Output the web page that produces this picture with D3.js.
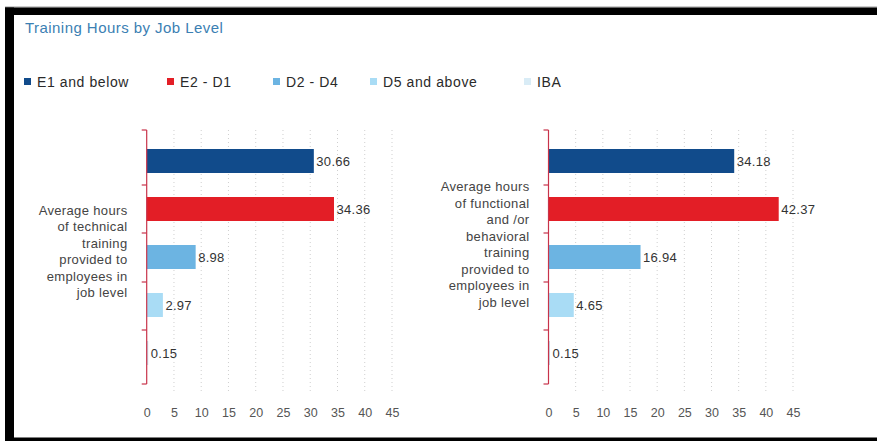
<!DOCTYPE html>
<html>
<head>
<meta charset="utf-8" />
<title>Training Hours by Job Level</title>
<style>
    body { margin: 0; background: #fff; }
    svg { display: block; font-family: 'Liberation Sans', Arial, sans-serif; }
</style>
</head>
<body>
<div id="container"></div>
<script src="https://cdn.jsdelivr.net/npm/d3@7"></script>
<script>
    const levels = ['E1 and below', 'E2 - D1', 'D2 - D4', 'D5 and above', 'IBA']
    const colors = ['#114b8b', '#e31e26', '#6cb4e2', '#a9dcf5', '#c9dbe8']
    const technical = [30.66, 34.36, 8.98, 2.97, 0.15]
    const functional = [34.18, 42.37, 16.94, 4.65, 0.15]
    const technicalLabel = ['Average hours', 'of technical', 'training', 'provided to', 'employees in', 'job level']
    const functionalLabel = ['Average hours', 'of functional', 'and /or', 'behavioral', 'training', 'provided to', 'employees in', 'job level']
    const xTicks = [0, 5, 10, 15, 20, 25, 30, 35, 40, 45]

    const W = 877, H = 441
    const svg = d3.select('#container').append('svg').attr('width', W).attr('height', H)

    // frame (black bars from the scanned page)
    svg.append('rect').attr('x', 5).attr('y', 6.5).attr('width', W - 5).attr('height', 1).attr('fill', '#999')
    svg.append('rect').attr('x', 5).attr('y', 7.5).attr('width', W - 5).attr('height', 7.5).attr('fill', '#000')
    svg.append('rect').attr('x', 5).attr('y', 7.5).attr('width', 9).attr('height', H - 7.5).attr('fill', '#000')
    svg.append('rect').attr('x', 5).attr('y', 437.5).attr('width', W - 5).attr('height', 4).attr('fill', '#000')

    svg.append('text').attr('x', 25).attr('y', 33).attr('fill', '#3b80b3')
        .style('font-size', '15px').style('letter-spacing', '0.45px').text('Training Hours by Job Level')

    // legend
    const legendX = [24, 167, 273, 370, 524]
    const legend = svg.append('g').selectAll('g').data(levels).join('g')
        .attr('transform', (d, i) => `translate(${legendX[i]}, 82)`)
    legend.append('rect').attr('x', 0).attr('y', -4).attr('width', 7).attr('height', 7)
        .attr('fill', (d, i) => i === 4 ? '#d9ecf6' : colors[i])
    legend.append('text').attr('x', 13).attr('y', 5).attr('fill', '#2a2a2a')
        .style('font-size', '14px').style('letter-spacing', '0.6px').text(d => d)

    const y = d3.scaleBand().domain(levels).range([137, 377]).paddingInner(0.5).paddingOuter(0.25)

    function panel(x0, x45, values, labelLines, labelX, labelY) {
        const x = d3.scaleLinear().domain([0, 45]).range([x0, x45])
        const g = svg.append('g')

        // dotted grid
        g.selectAll('.grid').data(xTicks.slice(1)).join('line')
            .attr('x1', d => x(d)).attr('x2', d => x(d))
            .attr('y1', 130).attr('y2', 392)
            .attr('stroke', '#cfcfcf').attr('stroke-width', 1).attr('stroke-dasharray', '1,3')

        // x tick labels
        const axisX = d3.axisBottom(x).tickValues(xTicks).tickSize(0).tickPadding(0)
        const ax = g.append('g').attr('transform', 'translate(0, 408)').call(axisX)
        ax.select('.domain').remove()
        ax.selectAll('text').attr('fill', '#555').style('font-size', '12.5px')
            .style('font-family', "'Liberation Sans', Arial, sans-serif")

        // bars
        g.selectAll('.bar').data(values).join('rect')
            .attr('x', x(0)).attr('y', (d, i) => y(levels[i]))
            .attr('width', d => Math.max(x(d) - x(0), 1.5)).attr('height', y.bandwidth())
            .attr('fill', (d, i) => colors[i])

        g.selectAll('.val').data(values).join('text')
            .attr('x', d => Math.max(x(d), x(0) + 1.5) + 2.5)
            .attr('y', (d, i) => y(levels[i]) + y.bandwidth() / 2 + 4.5)
            .attr('fill', '#333').style('font-size', '13px').style('letter-spacing', '0.3px')
            .text(d => d.toFixed(2))

        // y axis line with ticks at band boundaries
        const bounds = [130, 185, 233, 282, 330, 384]
        g.append('line').attr('x1', x(0)).attr('x2', x(0)).attr('y1', 130).attr('y2', 384)
            .attr('stroke', '#c8334a').attr('stroke-width', 1.2)
        g.selectAll('.tick-y').data(bounds).join('line')
            .attr('x1', x(0) - 5).attr('x2', x(0)).attr('y1', d => d).attr('y2', d => d)
            .attr('stroke', '#c8334a').attr('stroke-width', 1.2)

        // category label
        g.append('text').attr('text-anchor', 'end').attr('fill', '#444')
            .style('font-size', '13px').style('letter-spacing', '0.35px')
            .selectAll('tspan').data(labelLines).join('tspan')
            .attr('x', labelX).attr('y', (d, i) => labelY + i * 16.5)
            .text(d => d)
    }

    panel(146.7, 392, technical, technicalLabel, 127.5, 214.5)
    panel(548.5, 793, functional, functionalLabel, 529.5, 191)
</script>
</body>
</html>
